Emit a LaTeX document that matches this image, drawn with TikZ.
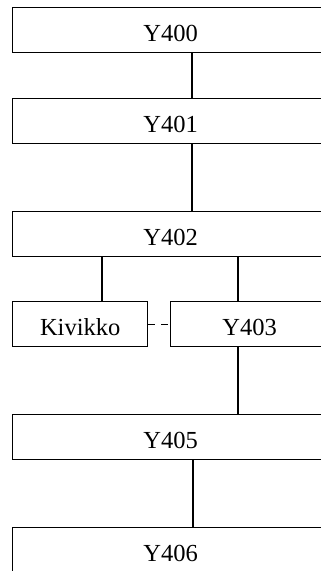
\documentclass[tikz,border=0pt]{standalone}
\usepackage{fontspec}
\setmainfont{Liberation Serif}
\begin{document}
\begin{tikzpicture}[x=1pt,y=-1pt,
  box/.style={draw=black, line width=1.4pt, rectangle, anchor=north west, inner sep=0pt,
    minimum height=45pt, font=\fontsize{24.5}{28}\selectfont, text height=23pt, text depth=0pt},
  wide/.style={box, minimum width=316pt},
  conn/.style={draw=black, line width=1.2pt},
  dashconn/.style={conn, dash pattern=on 7pt off 6pt}]
\clip (0,0) rectangle (321,571);
\fill[white] (0,0) rectangle (321,571);
\node[wide] (y400) at (12,7) {Y400};
\node[wide] (y401) at (12,98) {Y401};
\node[wide] (y402) at (12,211) {Y402};
\node[box, minimum width=135pt] (kiv) at (12,301) {Kivikko};
\node[box, minimum width=158pt] (y403) at (170,301) {Y403};
\node[wide] (y405) at (12,414) {Y405};
\node[wide] (y406) at (12,527) {Y406};
\draw[conn] (y400.south west) ++(180,0) coordinate (a1) -- (a1 |- y401.north);
\draw[conn] (y401.south west) ++(180,0) coordinate (a2) -- (a2 |- y402.north);
\draw[conn] (y402.south west) ++(90,0) coordinate (a3) -- (a3 |- kiv.north);
\draw[conn] (y402.south west) ++(226,0) coordinate (a4) -- (a4 |- y403.north);
\draw[conn] (y403.south west) ++(68,0) coordinate (a5) -- (a5 |- y405.north);
\draw[conn] (y405.south west) ++(181,0) coordinate (a6) -- (a6 |- y406.north);
\draw[dashconn] (kiv.east) -- (y403.west);
\end{tikzpicture}
\end{document}
